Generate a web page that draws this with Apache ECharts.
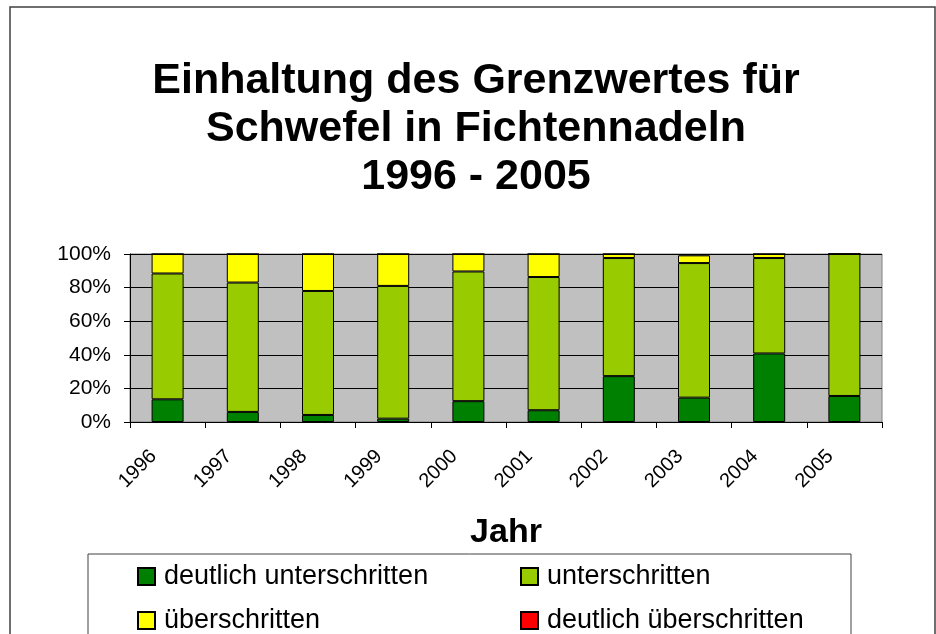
<!DOCTYPE html>
<html>
<head>
<meta charset="utf-8">
<script src="https://cdn.jsdelivr.net/npm/echarts@6/dist/echarts.min.js"></script>
<style>
  html, body { margin: 0; padding: 0; background: #fff; }
  #chart { width: 936px; height: 634px; }
</style>
</head>
<body>
<div id="chart"></div>
<script>
const years = ['1996', '1997', '1998', '1999', '2000', '2001', '2002', '2003', '2004', '2005'];

// shares in percent
const deutlichUnter = [13.5, 6, 4.2, 2, 12.4, 7, 27.3, 14.5, 40.8, 15.5];
const unter = [74.9, 77, 73.8, 79, 77.2, 79.3, 70.3, 80.1, 56.8, 84.5];
const ueber = [11.6, 17, 22, 19, 10.4, 13.7, 2.4, 4.6, 2.4, 0];
const deutlichUeber = [0, 0, 0, 0, 0, 0, 0, 0.8, 0, 0];

const yTicks = [0, 20, 40, 60, 80, 100];

const font = '"Liberation Sans", Arial, sans-serif';

const chart = echarts.init(document.getElementById('chart'));

function barSeries(name, data, color) {
    return {
        name: name,
        type: 'bar',
        stack: 'total',
        barWidth: 32,
        data: data,
        itemStyle: { color: color, borderColor: '#000', borderWidth: 1 }
    };
}

function legendColumn(names, left) {
    return {
        data: names,
        orient: 'vertical',
        left: left, top: 563,
        padding: 0,
        itemWidth: 17, itemHeight: 17, itemGap: 17,
        icon: 'rect',
        textStyle: { fontSize: 27, lineHeight: 26, padding: [0, 0, 0, 4], fontFamily: font, color: '#000' }
    };
}

chart.setOption({
    animation: false,
    backgroundColor: '#fff',
    textStyle: { fontFamily: font, color: '#000' },
    title: {
        text: 'Einhaltung des Grenzwertes für\nSchwefel in Fichtennadeln\n1996 - 2005',
        left: 471,
        textAlign: 'center',
        top: 52,
        textStyle: { fontSize: 43, fontWeight: 'bold', lineHeight: 48, fontFamily: font, color: '#000' }
    },
    grid: {
        left: 130, right: 54, top: 254, bottom: 212,
        show: true,
        backgroundColor: '#C0C0C0',
        borderColor: '#808080',
        borderWidth: 1
    },
    legend: [
        legendColumn(['deutlich unterschritten', 'überschritten'], 137),
        legendColumn(['unterschritten', 'deutlich überschritten'], 520)
    ],
    xAxis: {
        type: 'category',
        data: years,
        name: 'Jahr',
        nameLocation: 'middle',
        nameGap: 94,
        nameTextStyle: { fontSize: 34, fontWeight: 'bold', fontFamily: font, color: '#000' },
        axisLine: { lineStyle: { color: '#000', width: 1 } },
        axisTick: { show: true, length: 6, lineStyle: { color: '#000' } },
        axisLabel: { rotate: 45, fontSize: 20, margin: 17, padding: [0, 20, 0, 0], color: '#000', fontFamily: font }
    },
    yAxis: {
        type: 'value',
        min: yTicks[0],
        max: yTicks[yTicks.length - 1],
        interval: 20,
        axisLine: { show: true, lineStyle: { color: '#000', width: 1 } },
        axisTick: { show: true, length: 6, lineStyle: { color: '#000' } },
        axisLabel: { formatter: '{value}%', fontSize: 21, margin: 19, color: '#000', fontFamily: font },
        splitLine: { lineStyle: { color: '#000', width: 1 } }
    },
    graphic: [
        {
            type: 'rect',
            shape: { x: 10, y: 7, width: 925, height: 640 },
            style: { fill: 'none', stroke: '#404040', lineWidth: 1.5 },
            silent: true
        },
        {
            type: 'rect',
            shape: { x: 88, y: 554, width: 763, height: 100 },
            style: { fill: 'none', stroke: '#404040', lineWidth: 1 },
            silent: true
        }
    ],
    series: [
        barSeries('deutlich unterschritten', deutlichUnter, '#008000'),
        barSeries('unterschritten', unter, '#99CC00'),
        barSeries('überschritten', ueber, '#FFFF00'),
        barSeries('deutlich überschritten', deutlichUeber, '#FF0000')
    ]
});
</script>
</body>
</html>
